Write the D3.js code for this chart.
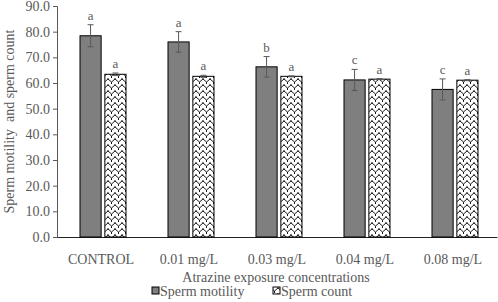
<!DOCTYPE html>
<html lang="en">
<head>
    <meta charset="UTF-8">
    <title>Sperm motility and count</title>
    <script src="https://d3js.org/d3.v7.min.js"></script>
    <style>
        body { margin: 0; background: #fff; }
        svg text { font-family: "Liberation Serif", "Times New Roman", serif; fill: #595959; }
    </style>
</head>
<body>
    <svg width="498" height="302"></svg>
    <script>
        const categories = ["CONTROL", "0.01 mg/L", "0.03 mg/L", "0.04 mg/L", "0.08 mg/L"];
        const motility = [78.4, 76.0, 66.3, 61.2, 57.5];
        const motilityErr = [4.3, 4.0, 4.0, 4.1, 4.1];
        const motilityLetters = ["a", "a", "b", "c", "c"];
        const count = [63.4, 62.6, 62.6, 61.5, 61.1];
        const countErr = [0.5, 0.4, 0.2, 0.2, 0.2];
        const countLetters = ["a", "a", "a", "a", "a"];
        const yTicks = [0, 10, 20, 30, 40, 50, 60, 70, 80, 90];

        const margin = { top: 6, right: 1, bottom: 65, left: 57 };
        const width = 498 - margin.left - margin.right;
        const height = 302 - margin.top - margin.bottom;

        const svgRoot = d3.select("svg");
        const defs = svgRoot.append("defs");
        // zigzag fill like the spreadsheet "wave" pattern
        const pat = defs.append("pattern")
            .attr("id", "wave")
            .attr("patternUnits", "userSpaceOnUse")
            .attr("width", 7).attr("height", 6);
        pat.append("rect").attr("width", 7).attr("height", 6).attr("fill", "#fff");
        pat.append("path")
            .attr("d", "M0,1 L3.5,4 L7,1 M3.5,4 L3.5,6 M0,-1 L0,1 M7,-1 L7,1")
            .attr("fill", "none").attr("stroke", "#000").attr("stroke-width", 0.9);

        const svg = svgRoot.append("g")
            .attr("transform", `translate(${margin.left},${margin.top})`);

        const x = d3.scaleBand().domain(categories).range([0, width]);
        const x1 = d3.scaleBand().domain(["m", "c"]).range([0, 46]).paddingInner(0.15);
        const y = d3.scaleLinear().domain([0, 90]).range([height, 0]);

        const yAxis = svg.append("g")
            .call(d3.axisLeft(y).tickValues(yTicks).tickFormat(d3.format(".1f")).tickSize(4));
        yAxis.select(".domain").attr("stroke", "#595959");
        yAxis.selectAll(".tick line").attr("stroke", "#595959");
        yAxis.selectAll("text").style("font-size", "14px").attr("x", -7)
            .style("font-family", "Liberation Serif").attr("fill", "#595959");

        const xAxis = svg.append("g")
            .attr("transform", `translate(0,${height})`)
            .call(d3.axisBottom(x).tickSize(0).tickPadding(17));
        xAxis.select(".domain").attr("stroke", "#222");
        xAxis.selectAll("text").style("font-size", "14px")
            .style("font-family", "Liberation Serif").attr("fill", "#595959");

        const rows = categories.map((c, i) => ({
            cat: c, m: motility[i], me: motilityErr[i], ml: motilityLetters[i],
            c: count[i], ce: countErr[i], cl: countLetters[i]
        }));

        const groups = svg.selectAll(".grp").data(rows).enter().append("g")
            .attr("transform", d => `translate(${x(d.cat) + x.bandwidth() / 2 - 21},0)`);

        const series = [
            { key: "m", val: d => d.m, err: d => d.me, lab: d => d.ml, fill: "#7f7f7f" },
            { key: "c", val: d => d.c, err: d => d.ce, lab: d => d.cl, fill: "url(#wave)" }
        ];

        series.forEach(s => {
            groups.append("rect")
                .attr("x", x1(s.key))
                .attr("y", d => y(s.val(d)))
                .attr("width", x1.bandwidth())
                .attr("height", d => height - y(s.val(d)))
                .attr("fill", s.fill)
                .attr("stroke", "#000")
                .attr("stroke-width", 1);
            const cx = x1(s.key) + x1.bandwidth() / 2;
            groups.append("path")
                .attr("d", d => {
                    const t = y(s.val(d) + s.err(d)), b = y(s.val(d) - s.err(d));
                    return `M${cx},${t}V${b}M${cx - 3},${t}H${cx + 3}M${cx - 3},${b}H${cx + 3}`;
                })
                .attr("stroke", "#595959").attr("stroke-width", 1).attr("fill", "none");
            groups.append("text")
                .attr("x", cx)
                .attr("y", d => y(s.val(d) + s.err(d)) - 5)
                .attr("text-anchor", "middle")
                .style("font-size", "13px")
                .text(s.lab);
        });

        svg.append("text")
            .attr("x", width / 2 - 1)
            .attr("y", height + 45)
            .attr("text-anchor", "middle")
            .style("font-size", "14px")
            .text("Atrazine exposure concentrations");

        svgRoot.append("text")
            .attr("transform", `translate(14,${margin.top + height / 2}) rotate(-90)`)
            .attr("text-anchor", "middle")
            .style("font-size", "14px")
            .style("white-space", "pre")
            .text("Sperm motility  and sperm count");

        const legend = svgRoot.append("g").attr("transform", "translate(152,287)");
        const legendItems = [
            { name: "Sperm motility", fill: "#7f7f7f", x: 0 },
            { name: "Sperm count", fill: "url(#wave)", x: 121 }
        ];
        legendItems.forEach(l => {
            legend.append("rect").attr("x", l.x).attr("y", 0).attr("width", 7).attr("height", 7)
                .attr("fill", l.fill).attr("stroke", "#000").attr("stroke-width", 1);
            legend.append("text").attr("x", l.x + 8).attr("y", 9)
                .style("font-size", "14px").text(l.name);
        });
    </script>
</body>
</html>
